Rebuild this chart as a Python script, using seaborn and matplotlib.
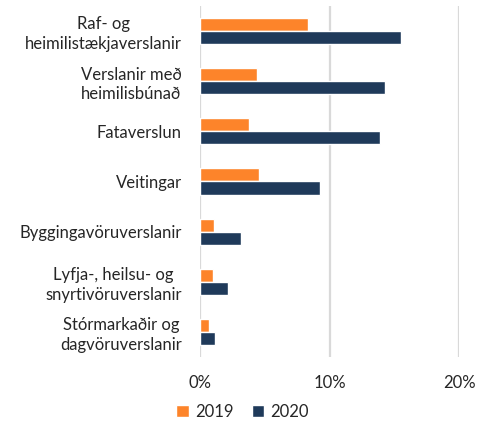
import pandas as pd
import matplotlib.pyplot as plt
import seaborn as sns

categories = ["Raf- og\nheimilistækjaverslanir", "Verslanir með\nheimilisbúnað", "Fataverslun",
              "Veitingar", "Byggingavöruverslanir", "Lyfja-, heilsu- og\nsnyrtivöruverslanir",
              "Stórmarkaðir og\ndagvöruverslanir"]
vals_2019 = [8.3, 4.4, 3.8, 4.6, 1.1, 1.0, 0.7]
vals_2020 = [15.5, 14.3, 13.9, 9.25, 3.2, 2.2, 1.2]
years = ["2019", "2020"]
colors = {"2019": "#FD842A", "2020": "#1F3A5A"}

df = pd.DataFrame({
    "cat": categories * 2,
    "val": vals_2019 + vals_2020,
    "year": [years[0]] * len(categories) + [years[1]] * len(categories),
})

sns.set_style("white")
plt.rcParams['font.family'] = ['Lato', 'DejaVu Sans']

fig = plt.figure(figsize=(4.85, 4.23), dpi=100)
ax = fig.add_axes([0.412, 0.156, 0.535, 0.830])
sns.barplot(data=df, y="cat", x="val", hue="year", palette=colors, width=0.52,
            orient="h", ax=ax, saturation=1, legend=True)

ax.set_xlim(0, 20)
ax.set_ylim(6.5, -0.5)
ax.set_xticks([0, 10, 20])
ax.set_xticklabels(["0%", "10%", "20%"])
ax.grid(axis="x", color="#d9d9d9", linewidth=1.6)
ax.set_axisbelow(True)
for s in ax.spines.values():
    s.set_visible(False)
ax.set_xlabel("")
ax.set_ylabel("")
ax.tick_params(axis="x", length=0, pad=13, labelsize=12, labelcolor="#262626")
ax.tick_params(axis="y", length=0, pad=13, labelsize=12, labelcolor="#262626")
for t in ax.get_yticklabels():
    t.set_multialignment("center")
    t.set_linespacing(1.25)

handles, labels = ax.get_legend_handles_labels()
ax.get_legend().remove()
fig.legend(handles, labels, loc="center", bbox_to_anchor=(0.5, 0.026), ncol=2, frameon=False,
           fontsize=12, handlelength=0.75, handleheight=0.75, handletextpad=0.35, columnspacing=1.1,
           labelcolor="#262626")

fig.savefig("out.png", dpi=100)
